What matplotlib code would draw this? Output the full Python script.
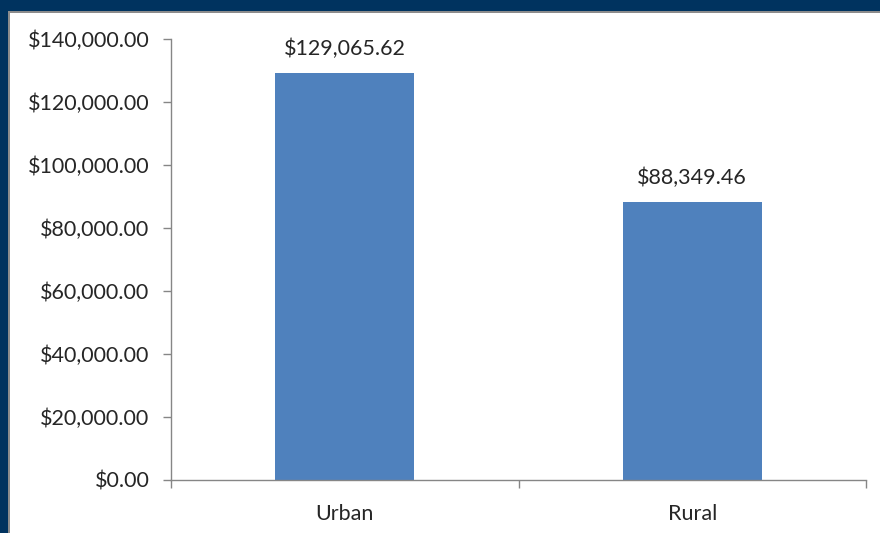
import matplotlib
matplotlib.use("Agg")
import matplotlib.pyplot as plt
from matplotlib.patches import Rectangle
from matplotlib.ticker import FuncFormatter, MultipleLocator

categories = ["Urban", "Rural"]
values = [129065.62, 88349.46]
y_max = 140000
y_step = 20000

plt.rcParams["font.family"] = ["Lato", "DejaVu Sans"]

W, H = 880, 533
FS = 15.5
TXT = "#262626"
fig = plt.figure(figsize=(W / 100, H / 100), dpi=100)
fig.patch.set_facecolor("white")

# navy frame along the top and left edges, with a thin grey inner line
navy = "#00335F"
fig.patches.append(Rectangle((0, 1 - 11 / H), 1, 11 / H, transform=fig.transFigure,
                             facecolor=navy, edgecolor="none", zorder=0))
fig.patches.append(Rectangle((0, 0), 8 / W, 1, transform=fig.transFigure,
                             facecolor=navy, edgecolor="none", zorder=0))
fig.patches.append(Rectangle((8 / W, 1 - 13 / H), 1, 2 / H, transform=fig.transFigure,
                             facecolor="#8C8C8C", edgecolor="none", zorder=0))
fig.patches.append(Rectangle((8 / W, 0), 2 / W, 1 - 11 / H, transform=fig.transFigure,
                             facecolor="#8C8C8C", edgecolor="none", zorder=0))

ax = fig.add_axes([171 / W, 1 - 480 / H, (866 - 171) / W, (480 - 39) / H])
ax.set_facecolor("none")

x = list(range(len(categories)))
bars = ax.bar(x, values, width=0.4, color="#4F81BD", zorder=2)

ax.set_xlim(-0.5, len(categories) - 0.5)
ax.set_ylim(0, y_max)
ax.yaxis.set_major_locator(MultipleLocator(y_step))
ax.yaxis.set_major_formatter(FuncFormatter(lambda v, p: f"${v:,.2f}"))

ax.set_xticks(x)
ax.set_xticklabels(categories)
ax.set_xticks([-0.5 + i for i in range(len(categories) + 1)], minor=True)
ax.tick_params(axis="x", which="major", length=0, pad=17, labelsize=FS, labelcolor=TXT)
ax.tick_params(axis="x", which="minor", length=5.5, color="#868686", width=1)
ax.tick_params(axis="y", length=5.5, color="#868686", width=1, pad=10,
               labelsize=FS, labelcolor=TXT)

for side in ("top", "right"):
    ax.spines[side].set_visible(False)
for side in ("left", "bottom"):
    ax.spines[side].set_color("#868686")
    ax.spines[side].set_linewidth(1)

for rect, v in zip(bars, values):
    ax.annotate(f"${v:,.2f}", (rect.get_x() + rect.get_width() / 2, v),
                xytext=(0, 10), textcoords="offset points",
                ha="center", va="bottom", fontsize=FS, color=TXT)

fig.savefig("out.png", dpi=100, facecolor=fig.get_facecolor())
